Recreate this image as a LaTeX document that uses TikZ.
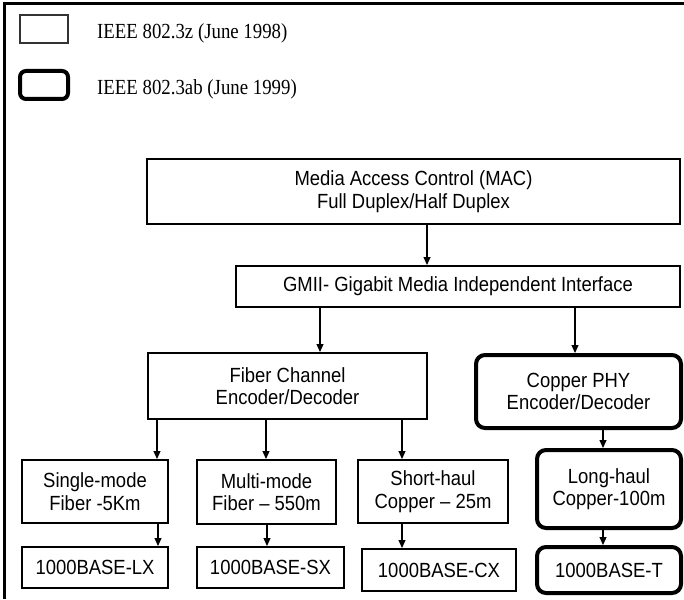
\documentclass[tikz,border=0pt]{standalone}
\usepackage{fontspec}
\setmainfont[FakeStretch=0.9]{Liberation Sans}
\newfontfamily\legendfont[FakeStretch=0.875]{Liberation Serif}
\usetikzlibrary{arrows.meta}
\tikzset{
  x=1pt, y=-1pt,
  txt/.style={font=\fontsize{20.5}{22.5}\selectfont, align=center, inner sep=0pt, text=black},
  thinbox/.style={txt, draw=black, line width=2pt, rectangle},
  thickbox/.style={txt, draw=black, line width=4pt, rectangle, rounded corners=9pt},
  arr/.style={draw=black, line width=1.1pt, -{Triangle[length=8pt,width=7pt]}},
  frame/.style={draw=black, line width=3pt},
  legendtxt/.style={font=\legendfont\fontsize{21.5}{24}\selectfont, anchor=west, inner sep=0pt, text=black}
}
\newcommand{\bx}[7]{\node[#1, minimum width=#5, minimum height=#6] (#2) at (#3,#4) {#7};}
\begin{document}
\begin{tikzpicture}
\useasboundingbox (0,0) rectangle (684,599);
% frame (top and left edges)
\coordinate (ftl) at (4,4);
\coordinate (ftr) at (684,4);
\coordinate (fbl) at (4,599);
\draw[frame] (fbl) -- (ftl) -- (ftr);
% legend
\node[draw=black!80, line width=2pt, minimum width=48pt, minimum height=28pt, inner sep=0pt] (leg1) at (44,29) {};
\node[legendtxt] (leg1t) at (97,33) {IEEE 802.3z (June 1998)};
\node[draw=black, line width=4pt, rounded corners=6pt, minimum width=48pt, minimum height=28pt, inner sep=0pt] (leg2) at (44,85) {};
\node[legendtxt] (leg2t) at (97,89) {IEEE 802.3ab (June 1999)};
% boxes
\bx{thinbox}{mac}{413.5}{191.5}{533pt}{65pt}{Media Access Control (MAC)\\Full Duplex/Half Duplex}
\bx{thinbox}{gmii}{458}{286.5}{444pt}{41pt}{GMII- Gigabit Media Independent Interface}
\bx{thinbox}{fc}{287.5}{386}{279pt}{66pt}{Fiber Channel\\Encoder/Decoder}
\bx{thickbox}{cp}{578.5}{391.5}{205pt}{73pt}{Copper PHY\\Encoder/Decoder}
\bx{thinbox}{sm}{95}{491.5}{146pt}{63pt}{Single-mode\\Fiber -5Km}
\bx{thinbox}{mm}{266.5}{492}{139pt}{64pt}{Multi-mode\\Fiber -- 550m}
\bx{thinbox}{sh}{433}{491.5}{150pt}{63pt}{Short-haul\\Copper -- 25m}
\bx{thickbox}{lh}{609}{489}{144pt}{78pt}{Long-haul\\Copper-100m}
\bx{thinbox}{lx}{95}{567.5}{146pt}{41pt}{1000BASE-LX}
\bx{thinbox}{sx}{270.5}{567.5}{147pt}{41pt}{1000BASE-SX}
\bx{thinbox}{cx}{439}{570}{154pt}{42pt}{1000BASE-CX}
\bx{thickbox}{bt}{609}{570}{144pt}{46pt}{1000BASE-T}
% connectors
\draw[arr] (mac.south -| 427,0) -- (gmii.north -| 427,0);
\draw[arr] (gmii.south -| 320,0) -- (fc.north -| 320,0);
\draw[arr] (gmii.south -| 575,0) -- (cp.north -| 575,0);
\draw[arr] (fc.south -| 157,0) -- (sm.north -| 157,0);
\draw[arr] (fc.south -| 266,0) -- (mm.north -| 266,0);
\draw[arr] (fc.south -| 402,0) -- (sh.north -| 402,0);
\draw[arr] (cp.south -| 603,0) -- (lh.north -| 603,0);
\draw[arr] (sm.south -| 158,0) -- (lx.north -| 158,0);
\draw[arr] (mm.south -| 267,0) -- (sx.north -| 267,0);
\draw[arr] (sh.south -| 402,0) -- (cx.north -| 402,0);
\draw[arr] (lh.south -| 603,0) -- (bt.north -| 603,0);
\end{tikzpicture}
\end{document}
